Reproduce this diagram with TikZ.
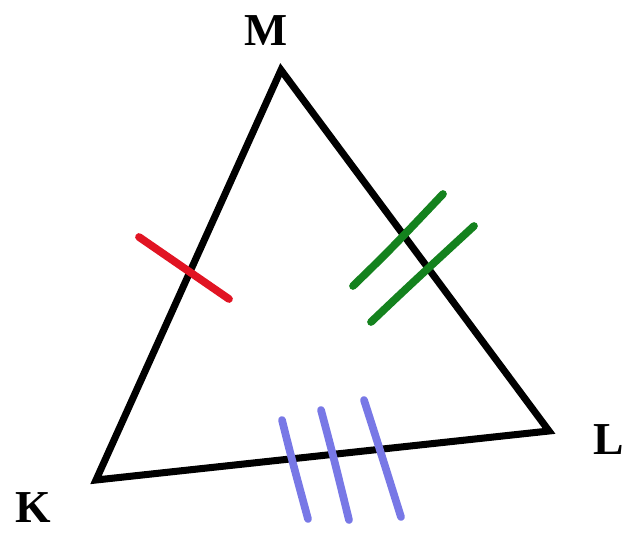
\documentclass[tikz,border=0pt]{standalone}
\usepackage{fontspec}
\setmainfont{Liberation Serif}
\usetikzlibrary{positioning}
\definecolor{tickred}{RGB}{225,20,35}
\definecolor{tickgreen}{RGB}{20,130,30}
\definecolor{tickblue}{RGB}{120,120,230}
\begin{document}
\begin{tikzpicture}[
    x=0.02cm, y=-0.02cm,
    side/.style={draw=black, line width=4pt, line join=miter},
    tick/.style={line width=4.4pt, line cap=round},
    vlabel/.style={font=\fontsize{26}{26}\selectfont\bfseries, inner sep=0pt}
]
\useasboundingbox (0,0) rectangle (625,533);
% vertices
\coordinate (M) at (281,70);
\coordinate (K) at (96,480);
\coordinate (L) at (549,431);
\node[vlabel] (lM) at (266,31) {M};
\node[vlabel] (lK) at (33,508) {K};
\node[vlabel] (lL) at (609,440) {L};
% triangle
\draw[side] (K) -- (L) -- (M) -- cycle;
% equal side marks
\draw[tick, tickred] (139,237) -- (229,299);
\draw[tick, tickgreen] (353,286) .. controls (390,250) .. (443,194);
\draw[tick, tickgreen] (371,322) .. controls (410,285) .. (474,226);
\draw[tick, tickblue] (282,420) .. controls (292,460) .. (308,519);
\draw[tick, tickblue] (321,410) .. controls (333,455) .. (349,520);
\draw[tick, tickblue] (364,400) .. controls (380,450) .. (401,517);
\end{tikzpicture}
\end{document}
